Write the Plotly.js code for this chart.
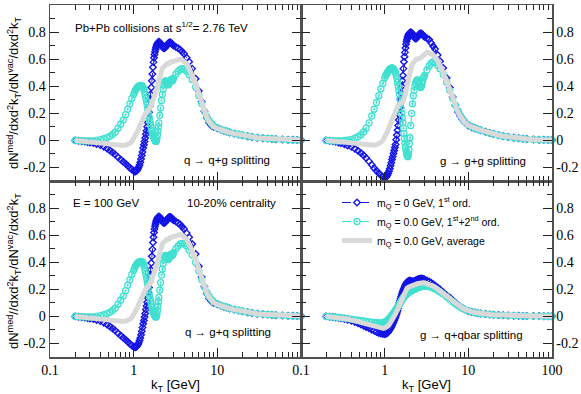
<!DOCTYPE html>
<html>
<head>
<meta charset="utf-8">
<script src="https://cdn.plot.ly/plotly-3.0.1.min.js"></script>
<style>html,body{margin:0;padding:0;background:#fff;}#chart{width:581px;height:394px;}</style>
</head>
<body>
<div id="chart"></div>
<script>
// kT grid [GeV]
const kT = [0.2, 0.22, 0.24, 0.26, 0.28, 0.3, 0.33, 0.36, 0.4, 0.44, 0.48, 0.52, 0.56, 0.6,
  0.65, 0.7, 0.75, 0.8, 0.85, 0.9, 0.95, 1.0,
  1.025, 1.05, 1.075, 1.1, 1.125, 1.15, 1.175, 1.2, 1.225, 1.25, 1.275, 1.3, 1.325, 1.35, 1.375, 1.4, 1.425, 1.45, 1.475, 1.5,
  1.525, 1.55, 1.575, 1.6, 1.625, 1.65, 1.675, 1.7, 1.725, 1.75, 1.775, 1.8, 1.825, 1.85, 1.875, 1.9, 1.925, 1.95, 1.975, 2.0,
  2.05, 2.1, 2.15, 2.2, 2.25, 2.3, 2.35, 2.4, 2.45, 2.5, 2.55, 2.6, 2.65, 2.7, 2.75, 2.8, 2.85, 2.9, 2.95, 3.0,
  3.2, 3.4, 3.6, 3.8, 4.0,
  4.3, 4.6, 5.0, 5.5, 6.0, 6.5, 7.0, 7.5, 8.0, 8.5, 9.0,
  10, 11, 12, 13, 14, 16, 18, 20, 23, 26, 30, 35, 40, 45, 50, 60, 70, 80, 90, 100];

// q -> q+g splitting (top left)
const qqg_first = [0, -0.003, -0.006, -0.009, -0.012, -0.015, -0.02, -0.026, -0.035, -0.047, -0.06, -0.075, -0.09, -0.105,
  -0.125, -0.142, -0.158, -0.173, -0.188, -0.202, -0.215, -0.225,
  -0.229, -0.23, -0.227, -0.22, -0.21, -0.197, -0.181, -0.162, -0.138, -0.112, -0.085, -0.057, -0.032, -0.008, 0.018, 0.045, 0.072, 0.1, 0.133, 0.17,
  0.208, 0.25, 0.295, 0.34, 0.39, 0.44, 0.49, 0.54, 0.578, 0.61, 0.635, 0.655, 0.672, 0.687, 0.698, 0.707, 0.714, 0.72, 0.725, 0.728,
  0.724, 0.715, 0.703, 0.692, 0.684, 0.68, 0.682, 0.688, 0.697, 0.705, 0.712, 0.718, 0.722, 0.724, 0.723, 0.72, 0.715, 0.71, 0.705, 0.70,
  0.69, 0.68, 0.67, 0.655, 0.64,
  0.61, 0.58, 0.53, 0.455, 0.365, 0.285, 0.215, 0.165, 0.13, 0.11, 0.1,
  0.09, 0.08, 0.072, 0.065, 0.058, 0.05, 0.043, 0.037, 0.03, 0.025, 0.02, 0.016, 0.013, 0.011, 0.009, 0.007, 0.005, 0.004, 0.003, 0.003];
const qqg_second = [0, -0.002, -0.003, -0.004, -0.004, -0.004, -0.003, 0, 0.005, 0.012, 0.02, 0.03, 0.045, 0.06,
  0.09, 0.12, 0.15, 0.19, 0.23, 0.27, 0.31, 0.34,
  0.356, 0.37, 0.381, 0.39, 0.396, 0.40, 0.403, 0.405, 0.406, 0.405, 0.4, 0.39, 0.377, 0.36, 0.337, 0.31, 0.285, 0.26, 0.23, 0.2,
  0.174, 0.15, 0.13, 0.11, 0.09, 0.07, 0.054, 0.04, 0.026, 0.015, 0.006, 0.0, -0.006, -0.008, -0.002, 0.015, 0.04, 0.07, 0.1, 0.13,
  0.185, 0.24, 0.295, 0.34, 0.38, 0.41, 0.43, 0.44, 0.438, 0.43, 0.418, 0.41, 0.418, 0.43, 0.442, 0.45, 0.445, 0.44, 0.448, 0.46,
  0.49, 0.51, 0.525, 0.53, 0.525,
  0.51, 0.485, 0.45, 0.395, 0.33, 0.27, 0.215, 0.175, 0.145, 0.125, 0.108,
  0.092, 0.082, 0.074, 0.067, 0.061, 0.051, 0.044, 0.038, 0.031, 0.026, 0.021, 0.017, 0.014, 0.011, 0.009, 0.006, 0.004, 0.003, 0.002, 0.001];
const qqg_avg = [0, -0.003, -0.005, -0.007, -0.009, -0.011, -0.013, -0.016, -0.02, -0.024, -0.028, -0.031, -0.034, -0.036,
  -0.038, -0.038, -0.037, -0.035, -0.03, -0.022, -0.01, 0.01,
  0.02, 0.03, 0.045, 0.06, 0.075, 0.09, 0.105, 0.12, 0.135, 0.15, 0.16, 0.17, 0.18, 0.19, 0.195, 0.2, 0.205, 0.21, 0.215, 0.22,
  0.227, 0.235, 0.242, 0.25, 0.26, 0.27, 0.285, 0.3, 0.31, 0.32, 0.33, 0.34, 0.35, 0.36, 0.375, 0.39, 0.405, 0.42, 0.435, 0.45,
  0.478, 0.5, 0.517, 0.53, 0.538, 0.545, 0.553, 0.56, 0.563, 0.565, 0.562, 0.56, 0.567, 0.575, 0.58, 0.585, 0.582, 0.58, 0.582, 0.585,
  0.59, 0.595, 0.6, 0.595, 0.585,
  0.565, 0.53, 0.485, 0.42, 0.345, 0.275, 0.215, 0.17, 0.138, 0.117, 0.102,
  0.089, 0.079, 0.071, 0.064, 0.058, 0.05, 0.043, 0.037, 0.03, 0.025, 0.02, 0.016, 0.013, 0.011, 0.009, 0.006, 0.005, 0.004, 0.003, 0.002];

// g -> g+g splitting (top right)
const ggg_first = [0, -0.003, -0.007, -0.011, -0.016, -0.021, -0.029, -0.037, -0.048, -0.062, -0.077, -0.093, -0.11, -0.13,
  -0.155, -0.18, -0.205, -0.225, -0.243, -0.258, -0.268, -0.274,
  -0.273, -0.268, -0.258, -0.245, -0.228, -0.21, -0.188, -0.165, -0.142, -0.12, -0.097, -0.075, -0.053, -0.03, 0.005, 0.04, 0.075, 0.11, 0.15, 0.19,
  0.245, 0.3, 0.35, 0.4, 0.44, 0.48, 0.53, 0.58, 0.618, 0.65, 0.682, 0.71, 0.73, 0.745, 0.758, 0.77, 0.778, 0.785, 0.79, 0.795,
  0.798, 0.795, 0.786, 0.775, 0.764, 0.755, 0.752, 0.755, 0.762, 0.77, 0.778, 0.785, 0.789, 0.79, 0.788, 0.785, 0.78, 0.775, 0.77, 0.765,
  0.755, 0.745, 0.72, 0.695, 0.675,
  0.63, 0.585, 0.535, 0.46, 0.39, 0.32, 0.26, 0.21, 0.18, 0.155, 0.135,
  0.11, 0.097, 0.09, 0.082, 0.075, 0.063, 0.054, 0.047, 0.038, 0.031, 0.025, 0.019, 0.015, 0.012, 0.01, 0.007, 0.005, 0.004, 0.003, 0.002];
const ggg_second = [0, -0.002, -0.003, -0.004, -0.004, -0.003, -0.001, 0.002, 0.008, 0.016, 0.027, 0.042, 0.062, 0.09,
  0.13, 0.18, 0.23, 0.28, 0.33, 0.38, 0.42, 0.46,
  0.476, 0.49, 0.5, 0.51, 0.518, 0.525, 0.53, 0.533, 0.535, 0.533, 0.528, 0.52, 0.512, 0.5, 0.48, 0.455, 0.428, 0.4, 0.37, 0.34,
  0.305, 0.27, 0.235, 0.2, 0.165, 0.13, 0.09, 0.05, 0.015, -0.02, -0.05, -0.075, -0.095, -0.11, -0.118, -0.12, -0.1, -0.07, -0.025, 0.02,
  0.11, 0.2, 0.27, 0.33, 0.37, 0.4, 0.425, 0.44, 0.447, 0.445, 0.43, 0.41, 0.395, 0.39, 0.4, 0.42, 0.44, 0.46, 0.47, 0.48,
  0.52, 0.55, 0.57, 0.58, 0.575,
  0.555, 0.53, 0.49, 0.43, 0.37, 0.31, 0.26, 0.22, 0.185, 0.16, 0.14,
  0.115, 0.1, 0.09, 0.082, 0.075, 0.063, 0.054, 0.047, 0.038, 0.031, 0.025, 0.019, 0.015, 0.012, 0.01, 0.007, 0.005, 0.004, 0.003, 0.002];
const ggg_avg = [0, -0.003, -0.005, -0.007, -0.01, -0.012, -0.015, -0.018, -0.022, -0.026, -0.03, -0.033, -0.035, -0.037,
  -0.038, -0.038, -0.036, -0.032, -0.025, -0.015, 0.0, 0.02,
  0.032, 0.045, 0.062, 0.08, 0.095, 0.11, 0.13, 0.15, 0.165, 0.18, 0.195, 0.21, 0.223, 0.235, 0.243, 0.25, 0.255, 0.26, 0.263, 0.265,
  0.268, 0.27, 0.272, 0.275, 0.28, 0.285, 0.292, 0.3, 0.315, 0.33, 0.35, 0.37, 0.39, 0.41, 0.43, 0.45, 0.465, 0.48, 0.495, 0.51,
  0.532, 0.55, 0.564, 0.575, 0.583, 0.59, 0.596, 0.6, 0.601, 0.6, 0.599, 0.6, 0.605, 0.61, 0.615, 0.62, 0.625, 0.63, 0.635, 0.64,
  0.65, 0.645, 0.64, 0.63, 0.615,
  0.59, 0.55, 0.505, 0.44, 0.375, 0.31, 0.255, 0.21, 0.18, 0.155, 0.135,
  0.11, 0.097, 0.09, 0.082, 0.075, 0.063, 0.054, 0.047, 0.038, 0.031, 0.025, 0.019, 0.015, 0.012, 0.01, 0.007, 0.005, 0.004, 0.003, 0.002];

// q -> g+q splitting (bottom left)
const qgq_first = [0, -0.003, -0.006, -0.009, -0.012, -0.015, -0.02, -0.026, -0.035, -0.047, -0.06, -0.075, -0.09, -0.105,
  -0.125, -0.142, -0.158, -0.173, -0.188, -0.202, -0.215, -0.224,
  -0.227, -0.228, -0.225, -0.218, -0.208, -0.195, -0.179, -0.16, -0.136, -0.11, -0.083, -0.055, -0.03, -0.005, 0.022, 0.05, 0.077, 0.105, 0.138, 0.175,
  0.213, 0.255, 0.3, 0.345, 0.395, 0.445, 0.495, 0.545, 0.585, 0.62, 0.645, 0.665, 0.682, 0.697, 0.708, 0.717, 0.724, 0.73, 0.735, 0.738,
  0.734, 0.725, 0.713, 0.702, 0.694, 0.69, 0.692, 0.698, 0.707, 0.715, 0.722, 0.728, 0.732, 0.735, 0.733, 0.73, 0.725, 0.72, 0.715, 0.71,
  0.7, 0.69, 0.678, 0.662, 0.645,
  0.615, 0.585, 0.535, 0.46, 0.37, 0.29, 0.22, 0.168, 0.132, 0.112, 0.1,
  0.09, 0.08, 0.072, 0.065, 0.058, 0.05, 0.043, 0.037, 0.03, 0.025, 0.02, 0.016, 0.013, 0.011, 0.009, 0.007, 0.005, 0.004, 0.003, 0.003];
const qgq_second = [0, -0.002, -0.003, -0.004, -0.004, -0.004, -0.003, 0, 0.005, 0.012, 0.02, 0.03, 0.045, 0.06,
  0.09, 0.12, 0.15, 0.19, 0.23, 0.27, 0.31, 0.34,
  0.356, 0.37, 0.381, 0.39, 0.396, 0.40, 0.403, 0.405, 0.406, 0.405, 0.4, 0.39, 0.377, 0.36, 0.337, 0.31, 0.285, 0.26, 0.23, 0.2,
  0.174, 0.15, 0.13, 0.11, 0.09, 0.07, 0.054, 0.04, 0.027, 0.016, 0.008, 0.002, -0.004, -0.005, 0.002, 0.018, 0.045, 0.075, 0.108, 0.14,
  0.195, 0.25, 0.305, 0.35, 0.39, 0.42, 0.44, 0.45, 0.448, 0.44, 0.428, 0.42, 0.428, 0.44, 0.452, 0.46, 0.455, 0.45, 0.458, 0.47,
  0.5, 0.52, 0.535, 0.54, 0.535,
  0.52, 0.49, 0.455, 0.4, 0.335, 0.272, 0.217, 0.177, 0.147, 0.126, 0.109,
  0.092, 0.082, 0.074, 0.067, 0.061, 0.051, 0.044, 0.038, 0.031, 0.026, 0.021, 0.017, 0.014, 0.011, 0.009, 0.006, 0.004, 0.003, 0.002, 0.001];
const qgq_avg = [0, -0.003, -0.005, -0.007, -0.009, -0.011, -0.013, -0.016, -0.02, -0.024, -0.028, -0.031, -0.034, -0.036,
  -0.038, -0.038, -0.037, -0.035, -0.03, -0.022, -0.01, 0.01,
  0.02, 0.03, 0.045, 0.06, 0.075, 0.09, 0.105, 0.12, 0.135, 0.15, 0.16, 0.17, 0.18, 0.19, 0.195, 0.2, 0.205, 0.21, 0.215, 0.22,
  0.227, 0.235, 0.242, 0.25, 0.26, 0.27, 0.285, 0.3, 0.31, 0.32, 0.33, 0.34, 0.35, 0.36, 0.375, 0.39, 0.405, 0.42, 0.438, 0.455,
  0.482, 0.505, 0.522, 0.535, 0.543, 0.55, 0.558, 0.565, 0.568, 0.57, 0.567, 0.565, 0.572, 0.58, 0.585, 0.59, 0.587, 0.585, 0.587, 0.59,
  0.595, 0.6, 0.605, 0.6, 0.59,
  0.57, 0.535, 0.49, 0.425, 0.35, 0.28, 0.218, 0.172, 0.14, 0.118, 0.103,
  0.089, 0.079, 0.071, 0.064, 0.058, 0.05, 0.043, 0.037, 0.03, 0.025, 0.02, 0.016, 0.013, 0.011, 0.009, 0.006, 0.005, 0.004, 0.003, 0.002];

// g -> q+qbar splitting (bottom right)
const gqq_first = [0, -0.002, -0.005, -0.008, -0.011, -0.014, -0.019, -0.025, -0.033, -0.042, -0.051, -0.06, -0.069, -0.078,
  -0.088, -0.098, -0.107, -0.115, -0.122, -0.127, -0.13, -0.13,
  -0.129, -0.127, -0.122, -0.115, -0.107, -0.098, -0.088, -0.078, -0.067, -0.055, -0.043, -0.03, -0.018, -0.005, 0.01, 0.025, 0.042, 0.06, 0.08, 0.1,
  0.115, 0.13, 0.145, 0.16, 0.173, 0.185, 0.195, 0.205, 0.215, 0.225, 0.233, 0.24, 0.245, 0.25, 0.254, 0.257, 0.26, 0.262, 0.263, 0.263,
  0.262, 0.26, 0.258, 0.258, 0.26, 0.262, 0.265, 0.268, 0.271, 0.273, 0.275, 0.276, 0.277, 0.278, 0.278, 0.278, 0.277, 0.275, 0.274, 0.272,
  0.265, 0.257, 0.248, 0.238, 0.228,
  0.213, 0.198, 0.178, 0.157, 0.14, 0.12, 0.1, 0.085, 0.072, 0.062, 0.053,
  0.04, 0.033, 0.028, 0.024, 0.021, 0.017, 0.014, 0.012, 0.01, 0.008, 0.006, 0.005, 0.004, 0.003, 0.003, 0.002, 0.002, 0.001, 0.001, 0.001];
const gqq_second = [0, -0.002, -0.004, -0.006, -0.008, -0.01, -0.013, -0.016, -0.02, -0.024, -0.028, -0.031, -0.034, -0.037,
  -0.04, -0.043, -0.045, -0.047, -0.048, -0.048, -0.046, -0.042,
  -0.039, -0.035, -0.03, -0.025, -0.019, -0.012, -0.005, 0.002, 0.009, 0.016, 0.023, 0.03, 0.038, 0.045, 0.053, 0.06, 0.068, 0.075, 0.083, 0.09,
  0.098, 0.105, 0.113, 0.12, 0.126, 0.132, 0.138, 0.143, 0.148, 0.152, 0.156, 0.16, 0.164, 0.167, 0.17, 0.173, 0.176, 0.178, 0.181, 0.183,
  0.187, 0.19, 0.194, 0.197, 0.2, 0.203, 0.206, 0.208, 0.211, 0.213, 0.215, 0.217, 0.219, 0.22, 0.221, 0.222, 0.223, 0.223, 0.224, 0.224,
  0.223, 0.22, 0.215, 0.21, 0.203,
  0.192, 0.18, 0.165, 0.145, 0.126, 0.108, 0.093, 0.08, 0.069, 0.06, 0.052,
  0.04, 0.033, 0.028, 0.024, 0.021, 0.017, 0.014, 0.012, 0.01, 0.008, 0.006, 0.005, 0.004, 0.003, 0.003, 0.002, 0.002, 0.001, 0.001, 0.001];
const gqq_avg = [0, -0.002, -0.005, -0.007, -0.01, -0.012, -0.016, -0.02, -0.026, -0.033, -0.04, -0.046, -0.052, -0.058,
  -0.064, -0.07, -0.076, -0.081, -0.085, -0.088, -0.088, -0.086,
  -0.084, -0.081, -0.076, -0.07, -0.063, -0.055, -0.047, -0.038, -0.029, -0.02, -0.01, 0.0, 0.01, 0.02, 0.031, 0.042, 0.055, 0.068, 0.082, 0.095,
  0.107, 0.118, 0.129, 0.14, 0.149, 0.158, 0.166, 0.174, 0.181, 0.188, 0.194, 0.2, 0.204, 0.208, 0.212, 0.215, 0.218, 0.22, 0.222, 0.223,
  0.224, 0.225, 0.226, 0.228, 0.23, 0.232, 0.235, 0.238, 0.241, 0.243, 0.245, 0.246, 0.248, 0.249, 0.25, 0.25, 0.25, 0.249, 0.249, 0.248,
  0.244, 0.238, 0.231, 0.224, 0.216,
  0.203, 0.189, 0.172, 0.151, 0.133, 0.114, 0.097, 0.083, 0.071, 0.061, 0.053,
  0.04, 0.033, 0.028, 0.024, 0.021, 0.017, 0.014, 0.012, 0.01, 0.008, 0.006, 0.005, 0.004, 0.003, 0.003, 0.002, 0.002, 0.001, 0.001, 0.001];

const seriesNames = ['m<sub>Q</sub> = 0 GeV, 1<sup>st</sup> ord.',
                     'm<sub>Q</sub> = 0.0 GeV, 1<sup>st</sup>+2<sup>nd</sup> ord.',
                     'm<sub>Q</sub> = 0.0 GeV, average'];
const xTickValsLeft = [0.1, 1, 10];
const xTickTextLeft = ['0.1', '1', '10'];
const xTickValsRight = [0.1, 1, 10, 100];
const xTickTextRight = ['0.1', '1', '10', '100'];
const xMinorVals = [0.2,0.3,0.4,0.5,0.6,0.7,0.8,0.9,2,3,4,5,6,7,8,9,20,30,40,50,60,70,80,90];
const yTickValsTop = [-0.2, 0, 0.2, 0.4, 0.6, 0.8, 1.0];
const yTickTextTop = ['-0.2', '0', '0.2', '0.4', '0.6', '0.8', '1'];
const yTickValsBottom = [-0.2, 0, 0.2, 0.4, 0.6, 0.8];
const yTickTextBottom = ['-0.2', '0', '0.2', '0.4', '0.6', '0.8'];
const yMinorVals = [-0.3, -0.1, 0.1, 0.3, 0.5, 0.7, 0.9];

const BLUE = '#1414e6', CYAN = '#40e0d0', GRAY = '#d9d9d9';

const panels = [
  {xa: 'x',  ya: 'y',  first: qqg_first, second: qqg_second, avg: qqg_avg, legend: true},
  {xa: 'x2', ya: 'y2', first: ggg_first, second: ggg_second, avg: ggg_avg, legend: false},
  {xa: 'x3', ya: 'y3', first: qgq_first, second: qgq_second, avg: qgq_avg, legend: false},
  {xa: 'x4', ya: 'y4', first: gqq_first, second: gqq_second, avg: gqq_avg, legend: false}
];

const traces = [];
panels.forEach(p => {
  traces.push({x: kT, y: p.first, xaxis: p.xa, yaxis: p.ya, type: 'scatter', mode: 'lines+markers',
    name: seriesNames[0], showlegend: p.legend, cliponaxis: false,
    line: {color: BLUE, width: 1, dash: 'dash'},
    marker: {symbol: 'diamond-open', size: 5, color: BLUE, line: {color: BLUE, width: 1.4}}});
  traces.push({x: kT, y: p.second, xaxis: p.xa, yaxis: p.ya, type: 'scatter', mode: 'lines+markers',
    name: seriesNames[1], showlegend: p.legend, cliponaxis: false,
    line: {color: CYAN, width: 1, dash: 'dash'},
    marker: {symbol: 'circle-open-dot', size: 6, color: CYAN, line: {color: CYAN, width: 1.3}}});
  traces.push({x: kT, y: p.avg, xaxis: p.xa, yaxis: p.ya, type: 'scatter', mode: 'lines',
    name: seriesNames[2], showlegend: p.legend, cliponaxis: false,
    line: {color: GRAY, width: 5}});
});

const tickFont = {family: 'Liberation Serif, Times New Roman, serif', size: 14, color: '#000'};
const L = 50/581, M = 301/581, R = 552/581;
const B0 = 37/394, B1 = 213/394, T1 = 389/394;

function xAxis(domain, anchor, vals, text, showLabels, title) {
  const ax = {domain: domain, anchor: anchor, type: 'log', range: [-1, 2],
    showline: true, linecolor: '#505050', linewidth: 1.5, mirror: 'allticks',
    ticks: 'inside', ticklen: 9, tickwidth: 1, tickcolor: '#222',
    tickvals: vals, ticktext: text, showticklabels: showLabels, tickfont: tickFont,
    minor: {tickvals: xMinorVals, ticks: 'inside', ticklen: 5, tickwidth: 1, tickcolor: '#222'},
    showgrid: false, zeroline: false, fixedrange: true};
  if (title) ax.title = {text: 'k<sub>T</sub> [GeV]', font: {family: 'Liberation Sans, Arial, sans-serif', size: 13, color: '#000'}, standoff: 4};
  return ax;
}
function yAxis(domain, anchor, side, vals, text) {
  return {domain: domain, anchor: anchor, side: side, range: [-0.3, 1.0],
    showline: true, linecolor: '#505050', linewidth: 1.5, mirror: 'allticks',
    ticks: 'inside', ticklen: 9, tickwidth: 1, tickcolor: '#222',
    tickvals: vals, ticktext: text, tickfont: tickFont,
    minor: {tickvals: yMinorVals, ticks: 'inside', ticklen: 5, tickwidth: 1, tickcolor: '#222'},
    showgrid: false, zeroline: false, fixedrange: true};
}

const txtFont = {family: 'Liberation Sans, Arial, sans-serif', size: 11.5, color: '#000'};
function note(text, px, py) {
  return {text: text, xref: 'paper', yref: 'paper', x: px/581, y: 1 - py/394,
    xanchor: 'left', yanchor: 'middle', showarrow: false, font: txtFont};
}
const yTitle = 'dN<sup>med</sup>/dxd<sup>2</sup>k<sub>T</sub>/dN<sup>vac</sup>/dxd<sup>2</sup>k<sub>T</sub>';
const yTitle2 = 'dN<sup>med</sup>//dxd<sup>2</sup>k<sub>T</sub>/dN<sup>vac</sup>/dxd<sup>2</sup>k<sub>T</sub>';

const layout = {
  width: 581, height: 394, margin: {l: 0, r: 0, t: 0, b: 0},
  paper_bgcolor: '#fff', plot_bgcolor: 'rgba(0,0,0,0)',
  font: {family: 'Liberation Sans, Arial, sans-serif', color: '#000'},
  xaxis:  xAxis([L, M], 'y', xTickValsLeft, xTickTextLeft, false, false),
  yaxis:  yAxis([B1, T1], 'x', 'left', yTickValsTop, yTickTextTop),
  xaxis2: xAxis([M, R], 'y2', xTickValsRight, xTickTextRight, false, false),
  yaxis2: yAxis([B1, T1], 'x2', 'right', yTickValsTop, yTickTextTop),
  xaxis3: xAxis([L, M], 'y3', xTickValsLeft, xTickTextLeft, true, true),
  yaxis3: yAxis([B0, B1], 'x3', 'left', yTickValsBottom, yTickTextBottom),
  xaxis4: xAxis([M, R], 'y4', xTickValsRight, xTickTextRight, true, true),
  yaxis4: yAxis([B0, B1], 'x4', 'right', yTickValsBottom, yTickTextBottom),
  showlegend: true,
  legend: {x: 337/581, y: 1 - 188/394, xanchor: 'left', yanchor: 'top', bgcolor: 'rgba(0,0,0,0)',
    font: {family: 'Liberation Sans, Arial, sans-serif', size: 10.5, color: '#000'}, tracegroupgap: 0},
  annotations: [
    note('Pb+Pb collisions at s<sup>1/2</sup>= 2.76 TeV', 73, 27),
    note('q \u2192 q+g splitting', 182, 160),
    note('g \u2192 g+g splitting', 438, 161),
    note('E = 100 GeV', 71, 203),
    note('10-20% centrality', 185, 203),
    note('q \u2192 g+q splitting', 183, 332),
    note('g \u2192 q+qbar splitting', 418, 335),
    {text: yTitle, xref: 'paper', yref: 'paper', x: 14/581, y: 1 - 93/394, textangle: -90,
     xanchor: 'center', yanchor: 'middle', showarrow: false, font: {family: 'Liberation Sans, Arial, sans-serif', size: 13, color: '#000'}},
    {text: yTitle2, xref: 'paper', yref: 'paper', x: 14/581, y: 1 - 271/394, textangle: -90,
     xanchor: 'center', yanchor: 'middle', showarrow: false, font: {family: 'Liberation Sans, Arial, sans-serif', size: 13, color: '#000'}}
  ]
};

Plotly.newPlot('chart', traces, layout, {staticPlot: true, displayModeBar: false});
</script>
</body>
</html>
